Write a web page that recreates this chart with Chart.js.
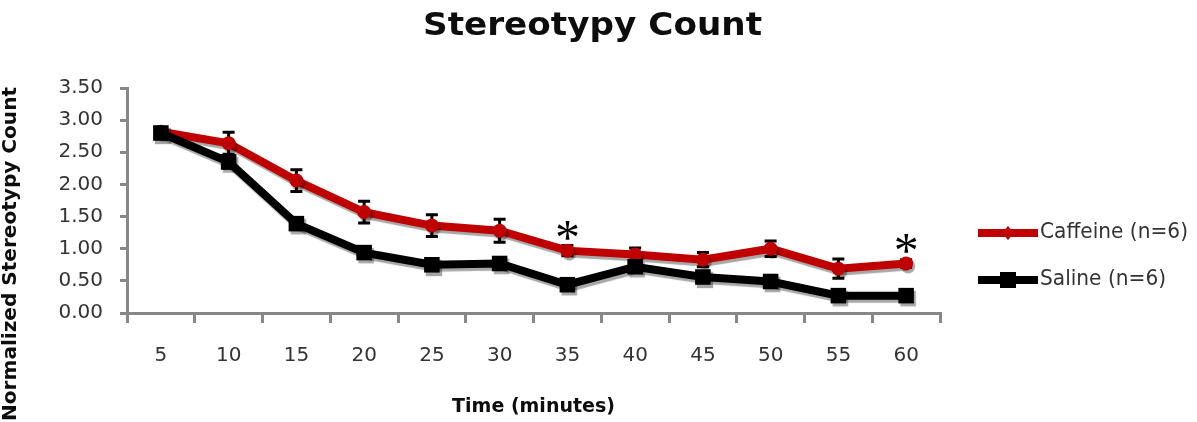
<!DOCTYPE html>
<html>
<head>
<meta charset="utf-8">
<script src="https://cdn.jsdelivr.net/npm/chart.js@4.4.1/dist/chart.umd.min.js"></script>
<style>
  html, body { margin: 0; padding: 0; background: #fff; }
  #wrap { width: 1197px; height: 422px; }
</style>
</head>
<body>
<div id="wrap"><canvas id="chart" width="1197" height="422"></canvas></div>
<script>
// values
const minutes = ['5', '10', '15', '20', '25', '30', '35', '40', '45', '50', '55', '60'];
const caffeine = [2.82, 2.64, 2.06, 1.57, 1.36, 1.28, 0.97, 0.91, 0.83, 1.00, 0.69, 0.77];
const caffeineErr = [0.04, 0.17, 0.17, 0.17, 0.17, 0.18, 0.08, 0.10, 0.11, 0.12, 0.15, 0.06];
const saline = [2.80, 2.35, 1.39, 0.94, 0.75, 0.77, 0.44, 0.72, 0.56, 0.49, 0.27, 0.27];
const salineErr = [0.06, 0.10, 0.07, 0.06, 0.05, 0.06, 0.05, 0.06, 0.06, 0.05, 0.04, 0.04];
const yTicks = [0, 0.5, 1, 1.5, 2, 2.5, 3, 3.5];
const starredAt = ['35', '60'];

const RED = '#c00000';
const BLACK = '#000000';
const AXIS = '#878787';
const TEXT = '#333333';

// draw text squeezed/stretched to a given width
function fitText(ctx, text, x, y, width) {
  const w = ctx.measureText(text).width;
  ctx.save();
  ctx.translate(x, y);
  ctx.scale(width / w, 1);
  ctx.fillText(text, 0, 0);
  ctx.restore();
}

const errorBars = {
  id: 'errorBars',
  beforeDatasetsDraw(chart) {
    const { ctx, scales: { x, y } } = chart;
    const sets = [[caffeine, caffeineErr], [saline, salineErr]];
    ctx.save();
    ctx.strokeStyle = BLACK;
    ctx.lineWidth = 3;
    sets.forEach(([vals, errs]) => {
      vals.forEach((v, i) => {
        const px = x.getPixelForValue(i);
        const top = y.getPixelForValue(v + errs[i]);
        const bot = y.getPixelForValue(v - errs[i]);
        ctx.beginPath();
        ctx.moveTo(px, top); ctx.lineTo(px, bot);
        ctx.moveTo(px - 6, top); ctx.lineTo(px + 6, top);
        ctx.moveTo(px - 6, bot); ctx.lineTo(px + 6, bot);
        ctx.stroke();
      });
    });
    ctx.restore();
  }
};

const lineShadow = {
  id: 'lineShadow',
  beforeDatasetDraw(chart) {
    const ctx = chart.ctx;
    ctx.save();
    ctx.shadowColor = 'rgba(0,0,0,0.35)';
    ctx.shadowOffsetX = 2;
    ctx.shadowOffsetY = 3;
    ctx.shadowBlur = 1;
  },
  afterDatasetDraw(chart) {
    chart.ctx.restore();
  }
};

const decor = {
  id: 'decor',
  afterDraw(chart) {
    const { ctx, scales: { x, y } } = chart;
    ctx.save();

    // title
    ctx.fillStyle = '#0d0d0d';
    ctx.font = 'bold 32px "DejaVu Sans"';
    ctx.textAlign = 'left';
    ctx.textBaseline = 'middle';
    fitText(ctx, 'Stereotypy Count', 423, 27, 339);

    // y axis title
    ctx.save();
    ctx.translate(11, 421);
    ctx.rotate(-Math.PI / 2);
    ctx.font = 'bold 19px "DejaVu Sans"';
    fitText(ctx, 'Normalized Stereotypy Count', 0, 0, 334);
    ctx.restore();

    // significance stars
    ctx.fillStyle = '#000';
    ctx.font = '50px "Liberation Serif"';
    ctx.textAlign = 'center';
    ctx.textBaseline = 'alphabetic';
    starredAt.forEach(m => {
      const i = minutes.indexOf(m);
      const px = x.getPixelForValue(i);
      const py = y.getPixelForValue(caffeine[i]);
      ctx.fillText('*', px, py + 3);
    });

    // legend
    const items = [
      { label: 'Caffeine (n=6)', color: RED, style: 'diamond', yPos: 233 },
      { label: 'Saline (n=6)', color: BLACK, style: 'square', yPos: 280 }
    ];
    ctx.font = '21px "DejaVu Sans"';
    ctx.textAlign = 'left';
    ctx.textBaseline = 'middle';
    const k = 148 / ctx.measureText(items[0].label).width;
    items.forEach(it => {
      ctx.strokeStyle = it.color;
      ctx.fillStyle = it.color;
      ctx.lineWidth = 8;
      ctx.beginPath();
      ctx.moveTo(978, it.yPos); ctx.lineTo(1038, it.yPos);
      ctx.stroke();
      ctx.beginPath();
      if (it.style === 'diamond') {
        ctx.moveTo(1008, it.yPos - 7); ctx.lineTo(1014, it.yPos);
        ctx.lineTo(1008, it.yPos + 7); ctx.lineTo(1002, it.yPos);
        ctx.closePath();
      } else {
        ctx.rect(1000, it.yPos - 8, 16, 16);
      }
      ctx.fill();
      ctx.fillStyle = TEXT;
      const w = ctx.measureText(it.label).width;
      fitText(ctx, it.label, 1040, it.yPos, w * k);
    });

    ctx.restore();
  }
};

new Chart(document.getElementById('chart'), {
  type: 'line',
  data: {
    labels: minutes,
    datasets: [
      {
        label: 'Caffeine (n=6)',
        data: caffeine,
        borderColor: RED,
        backgroundColor: RED,
        borderWidth: 8,
        pointStyle: 'circle',
        pointRadius: 7,
        pointBorderWidth: 0,
        tension: 0,
        order: 1
      },
      {
        label: 'Saline (n=6)',
        data: saline,
        borderColor: BLACK,
        backgroundColor: BLACK,
        borderWidth: 8,
        pointStyle: 'rect',
        pointRadius: 11,
        pointBorderWidth: 0,
        tension: 0,
        order: 0
      }
    ]
  },
  options: {
    responsive: false,
    animation: false,
    devicePixelRatio: 1,
    layout: { padding: { top: 88, right: 257, bottom: 0, left: 0 } },
    plugins: {
      legend: { display: false },
      title: { display: false },
      tooltip: { enabled: false }
    },
    scales: {
      x: {
        type: 'category',
        offset: true,
        afterFit: s => { s.height = 109; },
        grid: { offset: true, drawOnChartArea: false, drawTicks: true, tickLength: 10, color: AXIS, lineWidth: 3 },
        border: { display: true, color: AXIS, width: 3 },
        ticks: { color: TEXT, font: { family: 'DejaVu Sans', size: 20 }, padding: 21, maxRotation: 0, autoSkip: false },
        title: {
          display: true,
          text: 'Time (minutes)',
          color: '#0d0d0d',
          font: { family: 'DejaVu Sans', size: 19, weight: 'bold' },
          padding: { top: 4, bottom: 4 }
        }
      },
      y: {
        min: 0,
        max: 3.5,
        afterFit: s => { s.width = 127; },
        afterBuildTicks: s => { s.ticks = yTicks.map(v => ({ value: v })); },
        grid: { drawOnChartArea: false, drawTicks: true, tickLength: 7, color: AXIS, lineWidth: 3 },
        border: { display: true, color: AXIS, width: 3 },
        ticks: { color: TEXT, font: { family: 'DejaVu Sans', size: 20 }, padding: 17, callback: v => v.toFixed(2) }
      }
    }
  },
  plugins: [errorBars, lineShadow, decor]
});
</script>
</body>
</html>
